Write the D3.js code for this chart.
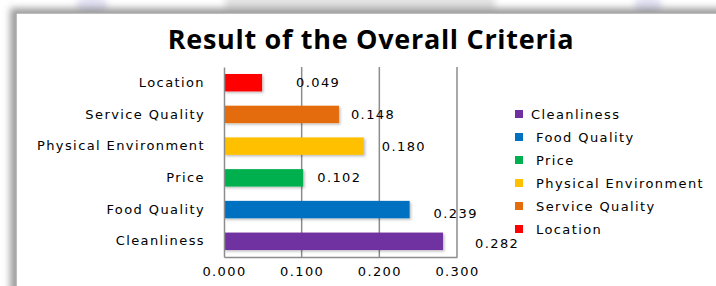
<!DOCTYPE html>
<html>
<head>
<meta charset="utf-8">
<script src="https://cdn.jsdelivr.net/npm/d3@7"></script>
<style>
  html, body { margin: 0; padding: 0; background: #fff; }
  svg { display: block; }
  .lbl { font-family: "DejaVu Sans", sans-serif; font-size: 13px; letter-spacing: 1.4px; fill: #000; }
</style>
</head>
<body>
<div id="chart"></div>
<script>
// chart data, bottom to top as in the legend
var categories = ["Cleanliness", "Food Quality", "Price", "Physical Environment", "Service Quality", "Location"];
var values = [0.282, 0.239, 0.102, 0.180, 0.148, 0.049];
var colors = ["#7030A0", "#0070C0", "#00B050", "#FFC000", "#E46C0A", "#FF0000"];
var tickValues = [0, 0.1, 0.2, 0.3];

var width = 716, height = 286;

var svg = d3.select("#chart").append("svg")
  .attr("width", width)
  .attr("height", height);

var defs = svg.append("defs");

// frame shadow goes up/left
var sh = defs.append("filter").attr("id", "frameShadow")
  .attr("x", "-10%").attr("y", "-10%").attr("width", "120%").attr("height", "120%");
sh.append("feDropShadow").attr("dx", -5).attr("dy", -4)
  .attr("stdDeviation", 3.5).attr("flood-color", "#666").attr("flood-opacity", 0.65);

var blur = defs.append("filter").attr("id", "soft");
blur.append("feGaussianBlur").attr("stdDeviation", 3);

var barSh = defs.append("filter").attr("id", "barShadow")
  .attr("x", "-10%").attr("y", "-20%").attr("width", "130%").attr("height", "160%");
barSh.append("feDropShadow").attr("dx", 1.5).attr("dy", 1.5)
  .attr("stdDeviation", 1).attr("flood-color", "#000").attr("flood-opacity", 0.25);

// faint watermark behind the frame
var wm = svg.append("g").attr("filter", "url(#soft)");
wm.append("ellipse").attr("cx", 92).attr("cy", 5).attr("rx", 16).attr("ry", 9).attr("fill", "#e0e0f2");
wm.append("ellipse").attr("cx", 648).attr("cy", 5).attr("rx", 14).attr("ry", 9).attr("fill", "#e0e0f2");
wm.append("rect").attr("x", 225).attr("y", -4).attr("width", 270).attr("height", 14).attr("fill", "#e2e2e2");

// chart frame
svg.append("rect")
  .attr("x", 16).attr("y", 13)
  .attr("width", 720).attr("height", 300)
  .attr("fill", "#fff")
  .attr("stroke", "#a8a8a8")
  .attr("stroke-width", 1.5)
  .attr("filter", "url(#frameShadow)");

svg.append("text")
  .attr("x", 371)
  .attr("y", 49)
  .attr("text-anchor", "middle")
  .style("font-family", "'Open Sans', sans-serif")
  .style("font-weight", 700)
  .style("font-size", "27px")
  .style("letter-spacing", "0.7px")
  .text("Result of the Overall Criteria");

var x = d3.scaleLinear()
  .domain([0, 0.3])
  .range([224, 457]);

var y = d3.scaleBand()
  .domain(categories.slice().reverse())
  .range([67, 257])
  .paddingInner(0.45)
  .paddingOuter(0.22);

// gridlines
svg.append("g")
  .selectAll("line")
  .data(tickValues.slice(1))
  .enter()
  .append("line")
  .attr("x1", d => x(d)).attr("x2", d => x(d))
  .attr("y1", 67).attr("y2", 257)
  .attr("stroke", "#8c8c8c")
  .attr("stroke-width", 1.5);

// bars
svg.append("g")
  .selectAll("rect")
  .data(categories)
  .enter()
  .append("rect")
  .attr("x", x(0))
  .attr("y", d => y(d))
  .attr("width", (d, i) => x(values[i]) - x(0))
  .attr("height", y.bandwidth())
  .attr("fill", (d, i) => colors[i])
  .attr("filter", "url(#barShadow)");

// axes
var xAxis = d3.axisBottom(x)
  .tickValues(tickValues)
  .tickSize(0)
  .tickPadding(10)
  .tickFormat(d3.format(".3f"));

var gx = svg.append("g")
  .attr("transform", "translate(0,257)")
  .call(xAxis);
gx.select(".domain").attr("stroke", "#8c8c8c").attr("stroke-width", 1.5);
gx.selectAll("text").attr("class", "lbl").attr("fill", null);

var yAxis = d3.axisLeft(y).tickSize(0).tickPadding(19);
var gy = svg.append("g")
  .attr("transform", "translate(224,0)")
  .call(yAxis);
gy.select(".domain").attr("stroke", "#8c8c8c").attr("stroke-width", 1.5);
gy.selectAll("text").attr("class", "lbl").attr("fill", null);

// value labels (hand-placed in the original, so each has its own nudge)
var labelDx = [32, 24, 14, 18, 12, 34];
var labelDy = [2, 4, 0, 0, 0, 0];
svg.append("g")
  .selectAll("text")
  .data(categories)
  .enter()
  .append("text")
  .attr("class", "lbl")
  .attr("x", (d, i) => x(values[i]) + labelDx[i])
  .attr("y", (d, i) => y(d) + y.bandwidth() / 2 + labelDy[i])
  .attr("dy", "0.35em")
  .text((d, i) => d3.format(".3f")(values[i]));

// legend
var legend = svg.append("g")
  .selectAll("g")
  .data(categories)
  .enter()
  .append("g")
  .attr("transform", (d, i) => `translate(515, ${114 + i * 23})`);

legend.append("rect")
  .attr("x", 0).attr("y", -4)
  .attr("width", 8).attr("height", 8)
  .attr("fill", (d, i) => colors[i]);

legend.append("text")
  .attr("class", "lbl")
  .attr("x", (d, i) => i === 0 ? 16 : 21)
  .attr("dy", "0.35em")
  .text(d => d);
</script>
</body>
</html>
